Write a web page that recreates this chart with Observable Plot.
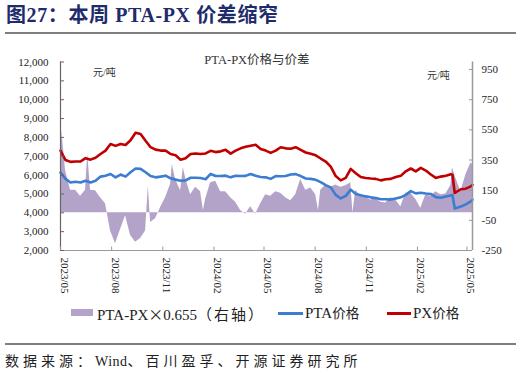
<!DOCTYPE html>
<html><head><meta charset="utf-8">
<script src="https://cdn.jsdelivr.net/npm/d3@7"></script>
<script src="https://cdn.jsdelivr.net/npm/@observablehq/plot@0.6"></script>
<style>
body{margin:0;background:#fff;}
#wrap{position:relative;width:521px;height:374px;overflow:hidden;font-family:"Liberation Serif","Noto Sans CJK SC",serif;color:#222;}
.abs{position:absolute;white-space:nowrap;line-height:1;}
.cjk{font-family:"Noto Sans CJK SC",sans-serif;}
</style></head><body><div id="wrap">
<div id="chart" class="abs" style="left:0;top:0"></div>
<div class="abs" style="left:6px;top:5px;font-size:20px;font-weight:bold;letter-spacing:0.6px;color:#1f2c6c;">图27：本周 PTA-PX 价差缩窄</div>
<div class="abs" style="left:5px;top:32px;width:511px;height:2px;background:#7f7f7f"></div>
<div class="abs" style="left:257px;top:54px;transform:translateX(-50%);font-size:12.5px;color:#333;">PTA-PX价格与价差</div>
<div class="abs" style="left:93px;top:68px;font-size:10px;color:#333;">元/吨</div>
<div class="abs" style="left:427px;top:71px;font-size:10px;color:#333;">元/吨</div>
<div class="abs" style="left:71px;top:309px;width:22px;height:7px;background:#b3a3c9"></div>
<div class="abs" style="left:97px;top:306px;font-size:15px;color:#222;">PTA-PX<span class="cjk">×</span>0.655<span style="letter-spacing:2px">（右轴）</span></div>
<div class="abs" style="left:278px;top:311.5px;width:25px;height:3px;background:#3b7dd0"></div>
<div class="abs" style="left:305px;top:306px;font-size:15px;color:#222;">PTA<span style="font-size:13.5px">价格</span></div>
<div class="abs" style="left:387px;top:311.5px;width:24px;height:3px;background:#c00000"></div>
<div class="abs" style="left:413px;top:306px;font-size:15px;color:#222;">PX<span style="font-size:13.5px">价格</span></div>
<div class="abs" style="left:5px;top:343px;width:511px;height:1.5px;background:#7f7f7f"></div>
<div class="abs" style="left:5px;top:355px;font-size:14px;letter-spacing:4px;color:#222;">数据来源：<span style="letter-spacing:0.5px">Wind</span>、百川盈孚、开源证券研究所</div>
</div>
<script>
// ---- data ----
const dates = ["2023-05-01","2023-05-10","2023-05-19","2023-05-28","2023-06-06","2023-06-15","2023-06-24","2023-07-03","2023-07-12","2023-07-21","2023-07-30","2023-08-08","2023-08-17","2023-08-26","2023-09-04","2023-09-13","2023-09-22","2023-10-01","2023-10-10","2023-10-19","2023-10-28","2023-11-06","2023-11-15","2023-11-24","2023-12-03","2023-12-12","2023-12-21","2023-12-30","2024-01-08","2024-01-17","2024-01-26","2024-02-04","2024-02-13","2024-02-22","2024-03-02","2024-03-11","2024-03-20","2024-03-29","2024-04-07","2024-04-16","2024-04-25","2024-05-04","2024-05-13","2024-05-22","2024-05-31","2024-06-09","2024-06-18","2024-06-27","2024-07-06","2024-07-15","2024-07-24","2024-08-02","2024-08-11","2024-08-20","2024-08-29","2024-09-07","2024-09-16","2024-09-25","2024-10-04","2024-10-13","2024-10-22","2024-10-31","2024-11-09","2024-11-18","2024-11-27","2024-12-06","2024-12-15","2024-12-24","2025-01-02","2025-01-11","2025-01-20","2025-01-29","2025-02-07","2025-02-16","2025-02-25","2025-03-06","2025-03-15","2025-03-24","2025-04-02","2025-04-05","2025-04-09","2025-04-20","2025-04-29","2025-05-08","2025-05-11"];
const ptaPrice = [6140,5800,5610,5650,5610,5700,5610,5700,5920,5970,6060,5880,6030,5920,6150,6350,6330,6150,5950,5880,5920,5970,5830,5760,5700,5720,5860,5860,5850,5780,6060,5950,5950,5970,5880,5960,5950,5960,6060,5960,5900,5880,5800,5950,5940,5950,6030,6050,5950,5820,5800,5750,5630,5470,5350,4950,4760,4900,5230,5000,4930,4870,4820,4780,4720,4720,4700,4760,4820,4950,5150,5030,5060,5020,5000,4830,4800,4860,4920,4940,4230,4330,4450,4600,4690];
const pxPrice = [7300,6800,6700,6720,6720,6900,6820,6920,7120,7300,7650,7550,7650,7600,7850,8250,8180,7820,7480,7350,7300,7300,7120,7050,6820,6900,7120,7150,7120,7150,7290,7220,7260,7340,7140,7300,7420,7500,7560,7610,7390,7300,7180,7300,7480,7420,7400,7480,7340,7200,7130,7050,6880,6720,6450,5950,5720,5850,6330,6100,5900,5850,5820,5800,5720,5780,5800,5900,5960,6200,6350,6200,6380,6240,6030,5850,5920,5970,6050,6020,5050,5250,5280,5400,5480];
const spreadDates = ["2023-05-01","2023-05-05","2023-05-10","2023-05-19","2023-05-28","2023-06-06","2023-06-15","2023-06-19","2023-06-24","2023-07-03","2023-07-12","2023-07-21","2023-07-30","2023-08-08","2023-08-17","2023-08-26","2023-09-04","2023-09-13","2023-09-22","2023-10-01","2023-10-06","2023-10-10","2023-10-19","2023-10-28","2023-11-06","2023-11-15","2023-11-18","2023-11-24","2023-12-03","2023-12-08","2023-12-12","2023-12-21","2023-12-30","2024-01-08","2024-01-13","2024-01-17","2024-01-26","2024-02-04","2024-02-13","2024-02-22","2024-03-02","2024-03-11","2024-03-20","2024-03-29","2024-04-07","2024-04-16","2024-04-25","2024-05-04","2024-05-13","2024-05-22","2024-05-31","2024-06-09","2024-06-18","2024-06-27","2024-07-06","2024-07-15","2024-07-24","2024-08-02","2024-08-07","2024-08-11","2024-08-20","2024-08-29","2024-09-07","2024-09-16","2024-09-25","2024-10-04","2024-10-08","2024-10-13","2024-10-22","2024-10-31","2024-11-09","2024-11-18","2024-11-27","2024-12-06","2024-12-15","2024-12-24","2025-01-02","2025-01-11","2025-01-20","2025-01-29","2025-02-07","2025-02-16","2025-02-25","2025-03-06","2025-03-15","2025-03-24","2025-04-02","2025-04-05","2025-04-09","2025-04-20","2025-04-29","2025-05-08","2025-05-11"];
const spreadValue = [600,480,280,150,150,110,150,390,150,147,100,60,-120,-205,-110,-20,-150,-195,-170,-120,180,-65,-40,35,100,190,320,220,147,300,230,120,170,140,15,90,200,210,140,140,100,70,15,-10,40,-10,60,120,110,140,130,100,80,120,220,150,165,120,15,150,185,170,185,170,180,200,0,150,110,100,85,95,70,65,100,85,40,130,130,90,30,120,110,140,120,125,180,300,250,140,250,330,320];
const leftTicks = [2000,3000,4000,5000,6000,7000,8000,9000,10000,11000,12000];
const rightTicks = [-250,-50,150,350,550,750,950];
const xTicks = ["2023-05-01","2023-08-01","2023-11-01","2024-02-01","2024-05-01","2024-08-01","2024-11-01","2025-02-01","2025-05-01"];
const xDomain = ["2023-05-01","2025-05-11"];
const leftDomain = [2000,12000];
const rightDomain = [-250,1000];

// ---- build ----
const parse = s => new Date(s + "T00:00:00Z");
const ratio = (leftDomain[1]-leftDomain[0])/(rightDomain[1]-rightDomain[0]);
const toLeft = v => leftDomain[0] + (v - rightDomain[0]) * ratio;
const lines = dates.map((d,i)=>({date: parse(d), pta: ptaPrice[i], px: pxPrice[i]}));
const spread = spreadDates.map((d,i)=>({date: parse(d), v: spreadValue[i]}));
const serif = "Liberation Serif";
const plot = Plot.plot({
  width: 521, height: 300,
  marginTop: 61.5, marginBottom: 50, marginLeft: 60, marginRight: 49,
  style: {fontFamily: serif, fontSize: "11px", color: "#222", background: "transparent"},
  x: {type: "utc", domain: xDomain.map(parse), axis: null},
  y: {domain: leftDomain},
  marks: [
    Plot.areaY(spread, {x: "date", y1: toLeft(0), y2: d => toLeft(d.v), fill: "#b3a3c9"}),
    Plot.lineY(lines, {x: "date", y: "pta", stroke: "#3b7dd0", strokeWidth: 2.6}),
    Plot.lineY(lines, {x: "date", y: "px", stroke: "#c00000", strokeWidth: 2.6}),
    Plot.ruleX([parse(xDomain[0])], {stroke: "#666", strokeWidth: 1.2}),
    Plot.ruleX([parse(xDomain[1])], {stroke: "#999", strokeWidth: 1.5}),
    Plot.ruleY([leftDomain[0]], {stroke: "#999", strokeWidth: 1.2}),
    Plot.tickY(leftTicks, {y: d => d, insetRight: 408, stroke: "#666"}),
    Plot.tickY(rightTicks.map(toLeft), {y: d => d, insetLeft: 409, stroke: "#999"}),
    Plot.tickX(xTicks.map(parse), {x: d => d, insetTop: 185, stroke: "#999"}),
    Plot.axisY(leftTicks, {anchor: "left", tickSize: 0, tickPadding: 12, tickFormat: d3.format(","), label: null, fontSize: 11}),
    Plot.axisY(rightTicks.map(toLeft), {anchor: "right", tickSize: 0, tickPadding: 9, tickFormat: d => String(Math.round((d - leftDomain[0]) / ratio + rightDomain[0])), label: null, fontSize: 11}),
    Plot.text(xTicks.map(parse), {x: d => d, frameAnchor: "bottom", rotate: 90, textAnchor: "start", dy: 7, text: d3.utcFormat("%Y/%m"), fontSize: 11, fill: "#222"})
  ]
});
document.getElementById("chart").appendChild(plot);
</script>
</body></html>
